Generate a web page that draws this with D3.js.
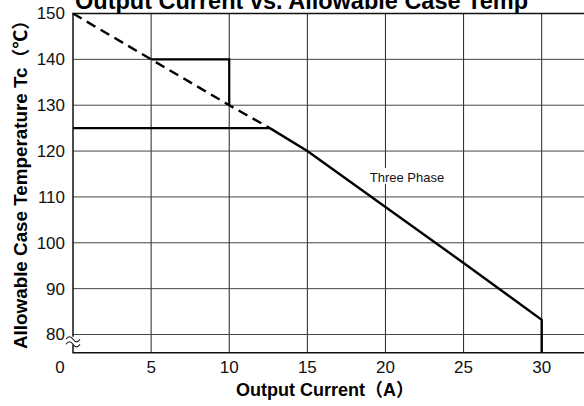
<!DOCTYPE html>
<html>
<head>
<meta charset="utf-8">
<script src="https://cdn.jsdelivr.net/npm/d3@7"></script>
<style>
  body { margin: 0; background: #fff; }
  svg { display: block; font-family: "Liberation Sans", Arial, "Noto Sans CJK JP", sans-serif; }
</style>
</head>
<body>
<div id="chart"></div>
<script>
// chart values
var xTicks = [0, 5, 10, 15, 20, 25, 30];
var yTicks = [80, 90, 100, 110, 120, 130, 140, 150];

// dashed derating line (upper)
var dashedCurrent = [0, 5, 10, 12.6];
var dashedTemp = [150, 140, 130, 125];

// solid three phase line, dropping to the axis at 30 A
var solidCurrent = [12.6, 15, 20, 25, 30, 30];
var solidTemp = [125, 120, 107.8, 95.6, 83.2, 0];

// flat 125 line and the small step at 5-10 A
var flatCurrent = [0, 12.6];
var flatTemp = [125, 125];
var stepCurrent = [5, 10, 10];
var stepTemp = [140, 140, 130];

var w = 584;
var h = 406;

var x = d3.scaleLinear().domain([0, 30]).range([73, 541.7]);
// broken axis: 0..80 squeezed into the small strip at the bottom
var y = d3.scaleLinear().domain([0, 80, 150]).range([352.7, 334.5, 13.5]);

var svg = d3.select("#chart")
  .append("svg")
  .attr("width", w)
  .attr("height", h);

function zip(xs, ys) {
  return xs.map(function(d, i) { return [d, ys[i]]; });
}

var line = d3.line()
  .x(function(d) { return x(d[0]); })
  .y(function(d) { return y(d[1]); });

// grid
svg.append("g")
  .selectAll("line")
  .data(xTicks.slice(1))
  .enter()
  .append("line")
  .attr("x1", function(d) { return x(d); })
  .attr("x2", function(d) { return x(d); })
  .attr("y1", y(0))
  .attr("y2", y(150))
  .attr("stroke", "#222")
  .attr("stroke-width", 1);

svg.append("g")
  .selectAll("line")
  .data(yTicks.slice(0, -1))
  .enter()
  .append("line")
  .attr("x1", x(0))
  .attr("x2", w)
  .attr("y1", function(d) { return y(d); })
  .attr("y2", function(d) { return y(d); })
  .attr("stroke", "#444")
  .attr("stroke-width", 1);

// frame: top, left, bottom
svg.append("path")
  .attr("d", "M" + w + "," + y(150) + "H" + x(0) + "V" + y(0) + "H" + w)
  .attr("fill", "none")
  .attr("stroke", "#111")
  .attr("stroke-width", 1.5);

// axis break mark
var by = y(0) - 12;
svg.append("rect")
  .attr("x", x(0) - 7).attr("y", by - 4)
  .attr("width", 14).attr("height", 8)
  .attr("fill", "#fff");
[-2.5, 2.5].forEach(function(o) {
  svg.append("path")
    .attr("d", "M" + (x(0) - 7) + "," + (by + o + 1) +
      " q3.5,-5 7,0 t7,0")
    .attr("fill", "none")
    .attr("stroke", "#111")
    .attr("stroke-width", 1.1);
});

// series
svg.append("path")
  .datum(zip(dashedCurrent, dashedTemp))
  .attr("d", line)
  .attr("fill", "none")
  .attr("stroke", "#000")
  .attr("stroke-width", 2.4)
  .attr("stroke-dasharray", "10,6");

svg.append("path")
  .datum(zip(flatCurrent, flatTemp))
  .attr("d", line)
  .attr("fill", "none")
  .attr("stroke", "#000")
  .attr("stroke-width", 2.2);

svg.append("path")
  .datum(zip(stepCurrent, stepTemp))
  .attr("d", line)
  .attr("fill", "none")
  .attr("stroke", "#000")
  .attr("stroke-width", 2.2);

svg.append("path")
  .datum(zip(solidCurrent, solidTemp))
  .attr("d", line)
  .attr("fill", "none")
  .attr("stroke", "#000")
  .attr("stroke-width", 2.4)
  .attr("stroke-linejoin", "miter");

// series label with white box over the grid
var lab = svg.append("g");
lab.append("rect")
  .attr("x", 365).attr("y", 168)
  .attr("width", 84).attr("height", 16)
  .attr("fill", "#fff");
lab.append("text")
  .attr("x", 407).attr("y", 182)
  .attr("text-anchor", "middle")
  .attr("font-size", 13)
  .attr("fill", "#111")
  .text("Three Phase");

// tick labels
svg.append("g")
  .selectAll("text")
  .data(xTicks)
  .enter()
  .append("text")
  .attr("x", function(d) { return d === 0 ? x(d) - 13 : x(d); })
  .attr("y", 373)
  .attr("text-anchor", "middle")
  .attr("font-size", 17)
  .attr("fill", "#111")
  .text(function(d) { return d; });

svg.append("g")
  .selectAll("text")
  .data(yTicks)
  .enter()
  .append("text")
  .attr("x", 65)
  .attr("y", function(d) { return y(d); })
  .attr("dy", "0.35em")
  .attr("text-anchor", "end")
  .attr("font-size", 17)
  .attr("fill", "#111")
  .text(function(d) { return d; });

// titles
svg.append("text")
  .attr("x", 75)
  .attr("y", 9)
  .attr("font-size", 23)
  .attr("font-weight", "bold")
  .attr("textLength", 453)
  .attr("lengthAdjust", "spacingAndGlyphs")
  .text("Output Current vs. Allowable Case Temp");

svg.append("text")
  .attr("x", 325)
  .attr("y", 396)
  .attr("text-anchor", "middle")
  .attr("font-size", 18)
  .attr("font-weight", "bold")
  .text("Output Current（A）");

svg.append("text")
  .attr("transform", "translate(27,180) rotate(-90)")
  .attr("text-anchor", "middle")
  .attr("font-size", 18)
  .attr("font-weight", "bold")
  .attr("textLength", 338)
  .attr("lengthAdjust", "spacingAndGlyphs")
  .text("Allowable Case Temperature Tc（℃）");
</script>
</body>
</html>
